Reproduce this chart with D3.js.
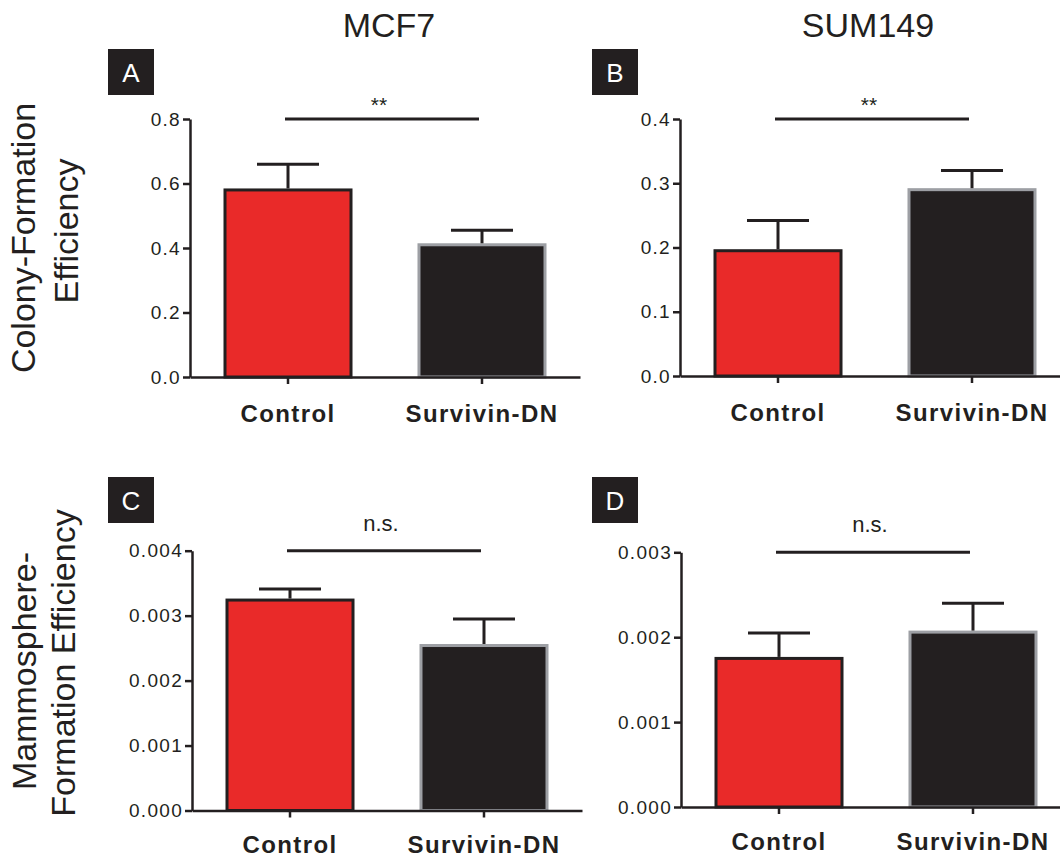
<!DOCTYPE html>
<html>
<head>
<meta charset="utf-8">
<script src="https://cdn.jsdelivr.net/npm/d3@7"></script>
<style>
  html, body { margin: 0; padding: 0; background: #fff; }
  svg { display: block; font-family: "Liberation Sans", Arial, Helvetica, sans-serif; }
</style>
</head>
<body>
<svg id="chart" width="1060" height="858"></svg>
<script>
// ---------- data ----------
const categories = ["Control", "Survivin-DN"];
const cellLines = ["MCF7", "SUM149"];
const panelLetters = ["A", "B", "C", "D"];
const rowLabels = [["Colony-Formation", "Efficiency"], ["Mammosphere-", "Formation Efficiency"]];

const meansA = [0.58, 0.41];
const semA   = [0.08, 0.045];
const meansB = [0.195, 0.29];
const semB   = [0.047, 0.03];
const meansC = [0.00324, 0.00254];
const semC   = [0.00017, 0.00041];
const meansD = [0.00175, 0.00206];
const semD   = [0.0003, 0.00034];

const yMaxes = [0.8, 0.4, 0.004, 0.003];
const yTickSteps = [0.2, 0.1, 0.001, 0.001];
const yTickFormats = [".1f", ".1f", ".3f", ".3f"];
const sigLabels = ["**", "**", "n.s.", "n.s."];

// ---------- style / layout ----------
const DARK = "#231f20";
const RED = "#e92a29";
const GRAY = "#9d9fa4";
const fills = [RED, DARK];
const strokes = [DARK, GRAY];
const FONT = "'Liberation Sans', Arial, Helvetica, sans-serif";

const frames = [
  { x0: 190, y0: 377,   yTop: 119,   box: [108, 49],  lab: 45 },
  { x0: 680, y0: 376,   yTop: 119,   box: [592, 49],  lab: 45 },
  { x0: 192, y0: 810.5, yTop: 550.7, box: [108, 477], lab: 42 },
  { x0: 681, y0: 807,   yTop: 552.3, box: [592, 477], lab: 43 }
];
const panelW = 390;

const means = [meansA, meansB, meansC, meansD];
const sems = [semA, semB, semC, semD];

const svg = d3.select("#chart");

// titles
const titleX = [389, 868];
cellLines.forEach((t, i) => {
  svg.append("text").attr("x", titleX[i]).attr("y", 37)
    .attr("text-anchor", "middle").attr("font-size", 34).attr("fill", DARK).text(t);
});

// row labels (rotated)
const rowLabelPos = [
  [[35, 238], [78, 231]],
  [[36, 671], [75, 663]]
];
rowLabels.forEach((lines, r) => {
  lines.forEach((ln, k) => {
    const [x, y] = rowLabelPos[r][k];
    svg.append("text")
      .attr("transform", `translate(${x},${y}) rotate(-90)`)
      .attr("text-anchor", "middle").attr("font-size", 34).attr("fill", DARK)
      .text(ln);
  });
});

panelLetters.forEach((letter, p) => {
  const f = frames[p];
  const g = svg.append("g");

  // letter box
  g.append("rect").attr("x", f.box[0]).attr("y", f.box[1]).attr("width", 46).attr("height", 46).attr("fill", DARK);
  g.append("text").attr("x", f.box[0] + 23).attr("y", f.box[1] + 33)
    .attr("text-anchor", "middle").attr("font-size", 26).attr("fill", "#fff").text(letter);

  const x = d3.scaleBand().domain(categories)
    .range([f.x0, f.x0 + panelW]).paddingInner(0.335).paddingOuter(0.1727);
  const y = d3.scaleLinear().domain([0, yMaxes[p]]).range([f.y0, f.yTop]);

  const data = categories.map((c, i) => ({ c, i, m: means[p][i], s: sems[p][i] }));

  // bars
  g.selectAll("rect.bar").data(data).enter().append("rect")
    .attr("class", "bar")
    .attr("x", d => x(d.c) + 1.5)
    .attr("width", x.bandwidth() - 3)
    .attr("y", d => y(d.m))
    .attr("height", d => f.y0 - y(d.m))
    .attr("fill", d => fills[d.i])
    .attr("stroke", d => strokes[d.i])
    .attr("stroke-width", 3);

  // error bars (upper only)
  const capW = 62;
  g.selectAll("line.err").data(data).enter().append("line")
    .attr("x1", d => x(d.c) + x.bandwidth() / 2).attr("x2", d => x(d.c) + x.bandwidth() / 2)
    .attr("y1", d => y(d.m) - 1.5).attr("y2", d => y(d.m + d.s))
    .attr("stroke", DARK).attr("stroke-width", 3);
  g.selectAll("line.cap").data(data).enter().append("line")
    .attr("x1", d => x(d.c) + x.bandwidth() / 2 - capW / 2)
    .attr("x2", d => x(d.c) + x.bandwidth() / 2 + capW / 2)
    .attr("y1", d => y(d.m + d.s)).attr("y2", d => y(d.m + d.s))
    .attr("stroke", DARK).attr("stroke-width", 3);

  // y axis
  const ticks = d3.range(0, yMaxes[p] + yTickSteps[p] / 2, yTickSteps[p]);
  const yAxis = d3.axisLeft(y).tickValues(ticks).tickFormat(d3.format(yTickFormats[p]))
    .tickSize(7).tickSizeOuter(0).tickPadding(2);
  const ya = g.append("g").attr("transform", `translate(${f.x0},0)`).call(yAxis);
  ya.select(".domain").attr("stroke", DARK).attr("stroke-width", 2.5);
  ya.selectAll(".tick line").attr("stroke", DARK).attr("stroke-width", 2.5);
  ya.selectAll(".tick text").attr("font-size", 19).attr("fill", DARK)
    .attr("letter-spacing", "1.3px")
    .attr("font-family", FONT);

  // x axis
  const xAxis = d3.axisBottom(x).tickSize(7).tickSizeOuter(0).tickPadding(0);
  const xa = g.append("g").attr("transform", `translate(0,${f.y0})`).call(xAxis);
  xa.select(".domain").attr("stroke", DARK).attr("stroke-width", 2.5);
  xa.selectAll(".tick line").attr("stroke", DARK).attr("stroke-width", 2.5);
  xa.selectAll(".tick text").attr("y", f.lab).attr("dy", 0)
    .attr("font-size", 24).attr("font-weight", "bold").attr("fill", DARK)
    .attr("letter-spacing", "1.4px")
    .attr("font-family", FONT);

  // significance
  const sx1 = x(categories[0]) + x.bandwidth() / 2 - 3;
  const sx2 = x(categories[1]) + x.bandwidth() / 2 - 3;
  const sy = y(yMaxes[p]);
  g.append("line").attr("x1", sx1).attr("x2", sx2).attr("y1", sy).attr("y2", sy)
    .attr("stroke", DARK).attr("stroke-width", 3);
  const isStar = sigLabels[p] === "**";
  g.append("text").attr("x", (sx1 + sx2) / 2 - 3)
    .attr("y", isStar ? sy - 7 : sy - 20)
    .attr("text-anchor", "middle").attr("font-size", isStar ? 21 : 22).attr("fill", DARK)
    .text(sigLabels[p]);
});
</script>
</body>
</html>
